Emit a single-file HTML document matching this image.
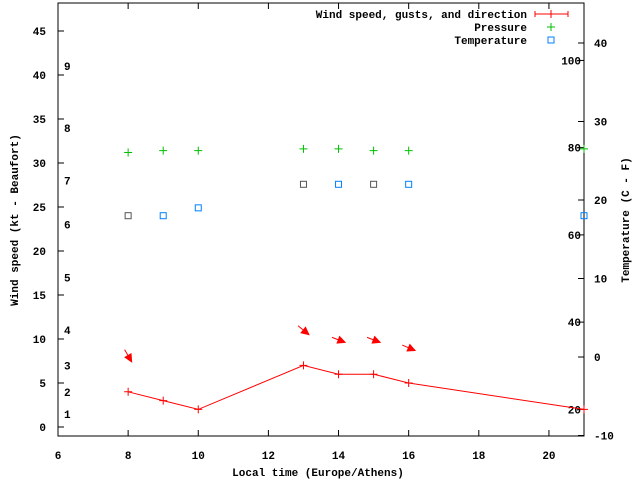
<!DOCTYPE html>
<html><head><meta charset="utf-8"><style>
body{margin:0;background:#fff}
svg{display:block;font-family:"Liberation Mono",monospace;font-size:11px;font-weight:bold}
</style></head><body>
<svg id="c" width="640" height="480"></svg>
<script>
const hours=[8,9,10,13,14,15,16,21];
const wind=[4,3,2,7,6,6,5,2];
const pressure=[31.2,31.4,31.4,31.6,31.6,31.4,31.4,31.6];
const temps=[18,18,19,22,22,22,22,18];
const tempColors=["#555","#0080ff","#0080ff","#555","#0080ff","#555","#0080ff","#0080ff"];
const arrowHours=[8,13,14,15,16];
const arrowKt=[8.1,11,9.9,9.9,9];
const arrowDir=[330,309,291,291,293];
const xTicks=[6,8,10,12,14,16,18,20];
const yTicks=[0,5,10,15,20,25,30,35,40,45];
const tTicks=[-10,0,10,20,30,40];
const fTicks=[20,40,60,80,100];
const bft=[[1,1.5],[2,4],[3,7],[4,11],[5,17],[6,23],[7,28],[8,34],[9,41]];
const L=58,R=584,T=3,B=436;
const X=h=>L+(h-6)*(R-L)/15;
const Y=v=>427-v*8.8;
const TY=c=>357-c*7.85;
const svg=document.getElementById('c');
const NS="http://www.w3.org/2000/svg";
function el(t,a,txt){const e=document.createElementNS(NS,t);for(const k in a)e.setAttribute(k,a[k]);if(txt!=null)e.textContent=txt;svg.appendChild(e);return e;}
let e=el('rect',{x:L,y:T,width:R-L,height:B-T,fill:'none',stroke:'#000','stroke-width':1});

xTicks.forEach(h=>{el('line',{x1:X(h),x2:X(h),y1:B,y2:B-6,stroke:'#000'});el('line',{x1:X(h),x2:X(h),y1:T,y2:T+6,stroke:'#000'});
 const t=el('text',{x:X(h),y:459,'text-anchor':'middle'},h);});
yTicks.forEach(v=>{el('line',{x1:L,x2:L+6,y1:Y(v),y2:Y(v),stroke:'#000'});
 const t=el('text',{x:46,y:Y(v)+4,'text-anchor':'end'},v);});
tTicks.forEach(v=>{el('line',{x1:R-6,x2:R,y1:TY(v),y2:TY(v),stroke:'#000'});
 const t=el('text',{x:594,y:TY(v)+4},v);});
fTicks.forEach(f=>{const c=(f-32)*5/9;el('line',{x1:R-6,x2:R,y1:TY(c),y2:TY(c),stroke:'#000'});
 const t=el('text',{x:R-3,y:TY(c)+4,'text-anchor':'end'},f);});
bft.forEach(b=>{const t=el('text',{x:64,y:Y(b[1])+4},b[0]);});
let t=el('text',{x:318,y:476,'text-anchor':'middle'},'Local time (Europe/Athens)');
t=el('text',{x:18,y:220,'text-anchor':'middle',transform:'rotate(-90 18 220)'},'Wind speed (kt - Beaufort)');
t=el('text',{x:629,y:220,'text-anchor':'middle',transform:'rotate(-90 629 220)'},'Temperature (C - F)');
// wind line
let p=el('polyline',{points:hours.map((h,i)=>X(h)+','+Y(wind[i])).join(' '),fill:'none',stroke:'#f00'});

hours.forEach((h,i)=>{const g=el('path',{d:`M${X(h)-4},${Y(wind[i])}h8M${X(h)},${Y(wind[i])-4}v8`,stroke:'#f00'});});
// arrows
arrowHours.forEach((h,i)=>{const a=(arrowDir[i]-270)*Math.PI/180;const cx=X(h),cy=Y(arrowKt[i]);
 const dx=Math.cos(a)*7,dy=Math.sin(a)*7;const hx=cx+dx,hy=cy+dy;
 const g=el('path',{d:`M${cx-dx},${cy-dy}L${hx},${hy}M${hx},${hy}L${hx-Math.cos(a-0.45)*8},${hy-Math.sin(a-0.45)*8}L${hx-Math.cos(a+0.45)*8},${hy-Math.sin(a+0.45)*8}Z`,stroke:'#f00',fill:'#f00'});
 });
// pressure
hours.forEach((h,i)=>{const g=el('path',{d:`M${X(h)-4},${Y(pressure[i])}h8M${X(h)},${Y(pressure[i])-4}v8`,stroke:'#00c000'});});
// temps
hours.forEach((h,i)=>{const r=el('rect',{x:X(h)-3,y:TY(temps[i])-3,width:6,height:6,fill:'none',stroke:tempColors[i]});});
// legend
t=el('text',{x:527,y:18,'text-anchor':'end'},'Wind speed, gusts, and direction');
el('path',{d:'M535,14h33M535,11v6M568,11v6M551,10v8',stroke:'#f00'});
t=el('text',{x:527,y:31,'text-anchor':'end'},'Pressure');
el('path',{d:'M547,27h8M551,23v8',stroke:'#00c000'});
t=el('text',{x:527,y:44,'text-anchor':'end'},'Temperature');
el('rect',{x:548,y:37,width:6,height:6,fill:'none',stroke:'#0080ff'});
</script>
</body></html>
